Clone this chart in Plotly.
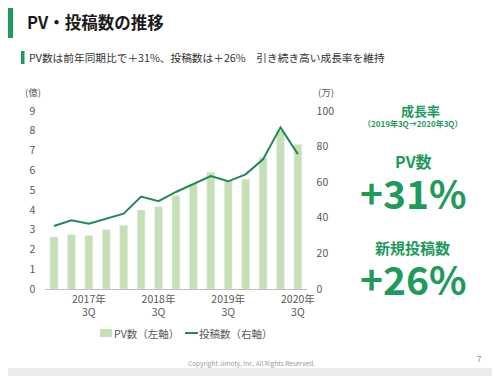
import plotly.graph_objects as go

quarters = ["2017年1Q", "2017年2Q", "2017年3Q", "2017年4Q",
            "2018年1Q", "2018年2Q", "2018年3Q", "2018年4Q",
            "2019年1Q", "2019年2Q", "2019年3Q", "2019年4Q",
            "2020年1Q", "2020年2Q", "2020年3Q"]
pv_oku = [2.63, 2.76, 2.70, 3.00, 3.22, 3.99, 4.16, 4.72, 5.31, 5.90, 5.48, 5.55, 6.65, 8.00, 7.31]
posts_man = [35.4, 38.6, 36.7, 39.5, 42.3, 51.9, 49.3, 54.5, 58.8, 63.5, 60.5, 64.4, 72.9, 90.8, 75.8]
tick_vals = ["2017年3Q", "2018年3Q", "2019年3Q", "2020年3Q"]
tick_text = ["2017年<br>3Q", "2018年<br>3Q", "2019年<br>3Q", "2020年<br>3Q"]
series_names = ["PV数（左軸）", "投稿数（右軸）"]

# the page body adds an 8px margin, so the figure is drawn 8px smaller
OFF = 8
W, H = 500 - OFF, 376 - OFF
FONT = "Noto Sans CJK JP"
GREEN = "#1f9a5c"
BAR = "#c5e0b4"
LINE = "#1e8a58"
GREY = "#595959"

def px(x):
    return (x - OFF) / W

def py(y):
    return 1 - (y - OFF) / H

fig = go.Figure()
fig.add_trace(go.Bar(x=quarters, y=pv_oku, name=series_names[0], marker_color=BAR,
                     width=0.45, yaxis="y"))
fig.add_trace(go.Scatter(x=quarters, y=posts_man, name=series_names[1], mode="lines",
                         line=dict(color=LINE, width=2), yaxis="y2"))

fig.update_layout(
    width=W, height=H,
    margin=dict(l=0, r=0, t=0, b=0, pad=0, autoexpand=False),
    paper_bgcolor="#ebebeb",
    plot_bgcolor="rgba(0,0,0,0)",
    font=dict(family=FONT, color=GREY, size=10),
    bargap=0.5,
    xaxis=dict(domain=[px(45.3), px(306.6)], type="category",
               tickvals=tick_vals, ticktext=tick_text, tickangle=0,
               showline=True, linecolor="#bfbfbf", linewidth=1,
               ticks="", showgrid=False, tickfont=dict(size=10.5, color=GREY),
               automargin=False),
    yaxis=dict(domain=[py(289), py(111)], range=[0, 9], dtick=1,
               showgrid=False, zeroline=False, ticks="", showline=False,
               tickfont=dict(size=10.5, color=GREY), automargin=False, ticklabelstandoff=9),
    yaxis2=dict(overlaying="y", side="right", range=[0, 100], dtick=20,
                showgrid=False, zeroline=False, ticks="", showline=False,
                tickfont=dict(size=10.5, color=GREY), automargin=False, ticklabelstandoff=9),
    showlegend=False,
)

shapes = [
    dict(type="rect", xref="paper", yref="paper", x0=px(6), x1=px(493), y0=py(368), y1=py(5),
         fillcolor="white", line=dict(width=0), layer="below"),
    dict(type="rect", xref="paper", yref="paper", x0=px(6), x1=px(13), y0=py(38), y1=py(5),
         fillcolor=GREEN, line=dict(width=0), layer="below"),
    dict(type="rect", xref="paper", yref="paper", x0=px(21), x1=px(24.5), y0=py(64), y1=py(51),
         fillcolor=GREEN, line=dict(width=0), layer="below"),
    # legend swatches
    dict(type="rect", xref="paper", yref="paper", x0=px(100), x1=px(112), y0=py(337), y1=py(329),
         fillcolor=BAR, line=dict(width=0)),
    dict(type="line", xref="paper", yref="paper", x0=px(185), x1=px(198), y0=py(333), y1=py(333),
         line=dict(color=LINE, width=2)),
]
fig.update_layout(shapes=shapes)

def ann(text, x, y, size, color=GREY, xanchor="left", bold=False):
    if bold:
        text = "<b>" + text + "</b>"
    fig.add_annotation(text=text, x=px(x), y=py(y), xref="paper", yref="paper",
                       xanchor=xanchor, yanchor="middle", showarrow=False,
                       font=dict(family=FONT, size=size, color=color))

ann(series_names[0], 112, 333, 10.5)
ann(series_names[1], 197, 333, 10.5)
ann("PV・投稿数の推移", 25, 22, 16.5, color="#1a1a1a", bold=True)
ann("PV数は前年同期比で＋31%、投稿数は＋26%　引き続き高い成長率を維持", 27, 57.5, 10.7, color="#333333")
ann("(億)", 33, 92, 9.5, xanchor="center")
ann("(万)", 326, 92, 9.5, xanchor="center")
ann("成長率", 420, 110, 13, color=GREEN, xanchor="center", bold=True)
ann("（2019年3Q→2020年3Q）", 413, 123, 8, color=GREEN, xanchor="center", bold=True)
ann("PV数", 413, 161, 16, color=GREEN, xanchor="center", bold=True)
ann("+31%", 413, 192, 39, color=GREEN, xanchor="center", bold=True)
ann("新規投稿数", 412, 247, 15, color=GREEN, xanchor="center", bold=True)
ann("+26%", 413, 278, 39, color=GREEN, xanchor="center", bold=True)
ann("Copyright Jimoty, Inc. All Rights Reserved.", 251, 363, 6.5, color="#9a9a9a", xanchor="center")
ann("7", 479, 358, 8, color="#8a8a8a", xanchor="center")

fig.write_html("out.html")
